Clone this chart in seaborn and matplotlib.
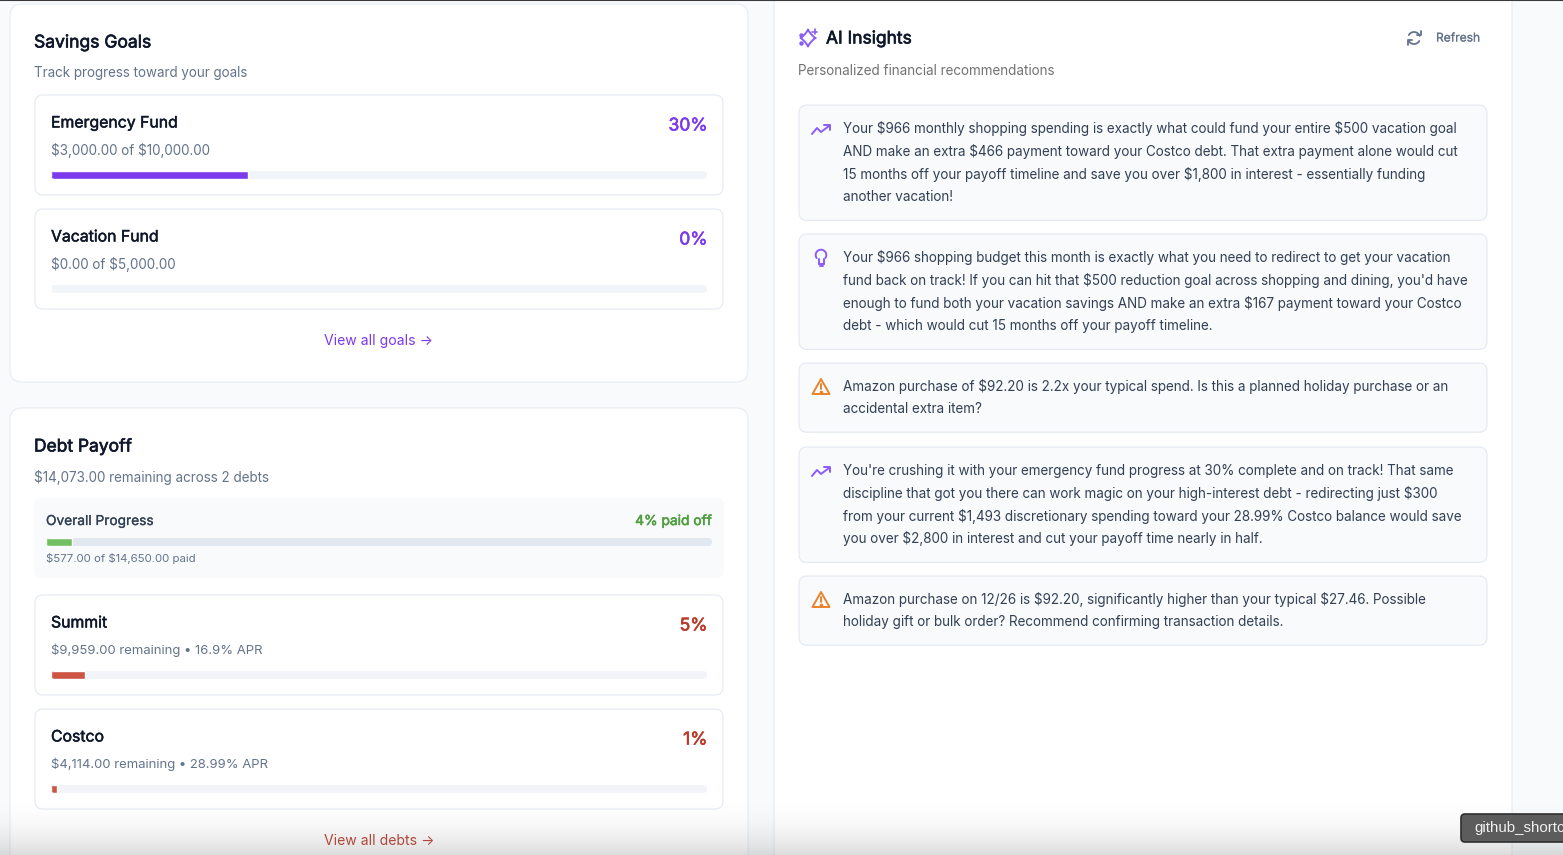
import matplotlib
matplotlib.use('Agg')
import matplotlib.pyplot as plt
import matplotlib.patheffects as pe
import numpy as np
import seaborn as sns
from matplotlib.patches import FancyBboxPatch, Polygon

W, H = 1563, 855

# progress values
goal_names = ['Emergency Fund', 'Vacation Fund']
goal_pct = [30, 0]
goal_labels = ['30%', '0%']
goal_subs = ['$3,000.00 of $10,000.00', '$0.00 of $5,000.00']
debt_names = ['Summit', 'Costco']
debt_pct = [5.2, 0.9]
debt_labels = ['5%', '1%']
debt_subs = ['$9,959.00 remaining • 16.9% APR', '$4,114.00 remaining • 28.99% APR']
overall_pct = [3.94]

insights = [
    ['Your $966 monthly shopping spending is exactly what could fund your entire $500 vacation goal',
     'AND make an extra $466 payment toward your Costco debt. That extra payment alone would cut',
     '15 months off your payoff timeline and save you over $1,800 in interest - essentially funding',
     'another vacation!'],
    ['Your $966 shopping budget this month is exactly what you need to redirect to get your vacation',
     "fund back on track! If you can hit that $500 reduction goal across shopping and dining, you'd have",
     'enough to fund both your vacation savings AND make an extra $167 payment toward your Costco',
     'debt - which would cut 15 months off your payoff timeline.'],
    ['Amazon purchase of $92.20 is 2.2x your typical spend. Is this a planned holiday purchase or an',
     'accidental extra item?'],
    ["You're crushing it with your emergency fund progress at 30% complete and on track! That same",
     'discipline that got you there can work magic on your high-interest debt - redirecting just $300',
     'from your current $1,493 discretionary spending toward your 28.99% Costco balance would save',
     'you over $2,800 in interest and cut your payoff time nearly in half.'],
    ['Amazon purchase on 12/26 is $92.20, significantly higher than your typical $27.46. Possible',
     'holiday gift or bulk order? Recommend confirming transaction details.'],
]
insight_icons = ['trend', 'bulb', 'warn', 'trend', 'warn']

sns.set_theme(style='white')
plt.rcParams['font.family'] = ['Inter', 'DejaVu Sans']

PURPLE = '#7c3aed'
PURPLE_ICON = '#8b5cf6'
BORDER = '#e2e8f0'
DARK = '#0f172a'
SLATE = '#64748b'
BODY = '#334155'
RED_TEXT = '#b83a2b'
RED_BAR = '#cd5343'
GREEN_TEXT = '#4f9e3f'
GREEN_BAR = '#72c061'
TRACK = '#f1f5f9'

fig = plt.figure(figsize=(W / 100, H / 100), dpi=100, facecolor='#f8fafc')
page = fig.add_axes([0, 0, 1, 1])
page.set_xlim(0, W)
page.set_ylim(H, 0)
page.axis('off')


def px(size):
    return size * 0.72


def card(x0, y0, x1, y1, r=8, fc='white', ec=BORDER, lw=0.75, z=1):
    p = FancyBboxPatch((x0 + r, y0 + r), x1 - x0 - 2 * r, y1 - y0 - 2 * r,
                       boxstyle=f'round,pad={r},rounding_size={r}', fc=fc, ec=ec, lw=lw, zorder=z)
    page.add_patch(p)
    return p


def label(x, y, s, size=13.5, color=SLATE, bold=0, ha='left'):
    # the installed Inter only gives one weight here, so heavier text gets a thin stroke
    t = page.text(x, y, s, fontsize=px(size), color=color, ha=ha, va='center', zorder=5, parse_math=False)
    if bold:
        t.set_path_effects([pe.withStroke(linewidth=bold, foreground=color)])


def progress(x0, x1, y0, y1, value, name, color, track=TRACK):
    # track is a rounded patch, the fill is a seaborn bar on a 0-100 scale
    r = (y1 - y0) / 2
    t = FancyBboxPatch((x0 + r, y0 + r), x1 - x0 - 2 * r, 0,
                       boxstyle=f'round,pad={r},rounding_size={r}', fc=track, ec='none', zorder=2)
    page.add_patch(t)
    ax = fig.add_axes([x0 / W, 1 - y1 / H, (x1 - x0) / W, (y1 - y0) / H])
    ax.patch.set_alpha(0)
    sns.barplot(x=[value], y=[name], color=color, width=1, saturation=1, orient='h', ax=ax)
    ax.set_xlim(0, 100)
    ax.set_ylim(0.5, -0.5)
    ax.axis('off')
    for b in ax.patches:
        b.set_clip_path(t)


def icon_trend(cx, cy):
    xs = np.array([-9, -4, 0, 8])
    ys = np.array([5, -1, 3, -3])
    page.plot(cx + xs, cy + ys, color=PURPLE_ICON, lw=1.4, zorder=5)
    page.plot(cx + np.array([3, 9, 9]), cy + np.array([-4, -4, 1]), color=PURPLE_ICON, lw=1.4, zorder=5)


def icon_bulb(cx, cy):
    a = np.linspace(np.radians(-215), np.radians(35), 40)
    page.plot(cx + 5.3 * np.cos(a), cy - 3 + 5.3 * np.sin(a), color=PURPLE_ICON, lw=1.4, zorder=5)
    page.plot([cx - 2.5, cx + 2.5], [cy + 6, cy + 6], color=PURPLE_ICON, lw=1.4, zorder=5)
    page.plot([cx - 1.5, cx + 1.5], [cy + 8.5, cy + 8.5], color=PURPLE_ICON, lw=1.4, zorder=5)
    page.plot([cx - 2.5, cx - 2.5], [cy + 1.5, cy + 6], color=PURPLE_ICON, lw=1.4, zorder=5)
    page.plot([cx + 2.5, cx + 2.5], [cy + 1.5, cy + 6], color=PURPLE_ICON, lw=1.4, zorder=5)


def icon_warn(cx, cy):
    c = '#e8832a'
    page.add_patch(Polygon([[cx, cy - 8], [cx + 8.5, cy + 7], [cx - 8.5, cy + 7]], closed=True, fc='none',
                           ec=c, lw=1.4, joinstyle='round', zorder=5))
    page.plot([cx, cx], [cy - 3, cy + 2], color=c, lw=1.4, zorder=5)
    page.plot([cx], [cy + 4.6], marker='o', ms=1.6, color=c, zorder=5)


def icon_sparkle(cx, cy):
    t = np.linspace(0, 2 * np.pi, 121)
    sx = np.sign(np.cos(t)) * np.abs(np.cos(t)) ** 2.4
    sy = np.sign(np.sin(t)) * np.abs(np.sin(t)) ** 2.4
    page.plot(cx + 7.5 * sx, cy + 8.5 * sy, color=PURPLE_ICON, lw=1.4, zorder=5)
    page.plot([cx + 6.5, cx + 6.5], [cy - 8.5, cy - 4], color=PURPLE_ICON, lw=1.2, zorder=5)
    page.plot([cx + 4.2, cx + 8.8], [cy - 6.2, cy - 6.2], color=PURPLE_ICON, lw=1.2, zorder=5)
    page.plot([cx - 7, cx - 7], [cy - 3, cy + 5], 'o', ms=2.2, color=PURPLE_ICON, zorder=5)


def icon_refresh(cx, cy):
    c = '#64748b'
    a = np.radians(np.linspace(-150, -20, 30))
    page.plot(cx + 6 * np.cos(a), cy + 6 * np.sin(a), color=c, lw=1.3, zorder=5)
    a = np.radians(np.linspace(30, 160, 30))
    page.plot(cx + 6 * np.cos(a), cy + 6 * np.sin(a), color=c, lw=1.3, zorder=5)
    page.plot([cx + 6.5, cx + 6.5, cx + 2.5], [cy - 7, cy - 2.5, cy - 2.5], color=c, lw=1.3, zorder=5)
    page.plot([cx - 6.5, cx - 6.5, cx - 2.5], [cy + 7, cy + 2.5, cy + 2.5], color=c, lw=1.3, zorder=5)


page.plot([0, W], [0.5, 0.5], color='#3a3a3c', lw=1.5, zorder=20)

# left panels
card(10, 4, 748, 382, r=12, ec='#e6eaf1')
label(34, 43, 'Savings Goals', 17.5, DARK, 0.45)
label(34, 73, 'Track progress toward your goals', 13.4, SLATE)

for i, (name, pct, lab, sub) in enumerate(zip(goal_names, goal_pct, goal_labels, goal_subs)):
    top = 95 + i * 114
    card(35, top, 723, top + 100)
    label(51, top + 28, name, 15.8, DARK, 0.35)
    label(707.5, top + 31, lab, 17.5, PURPLE, 0.45, ha='right')
    label(51, top + 55, sub, 13.5, SLATE)
    progress(51, 707, top + 76, top + 84, pct, name, PURPLE)
label(379, 341, 'View all goals →', 14, PURPLE, ha='center')

card(10, 408, 748, 900, r=12, ec='#e6eaf1')
label(34, 447, 'Debt Payoff', 17.4, DARK, 0.45)
label(34, 477, '$14,073.00 remaining across 2 debts', 13.5, SLATE)

card(34, 498, 724, 578, fc='#f8fafc', ec='none')
label(46, 521, 'Overall Progress', 13.7, BODY, 0.2)
label(711.5, 521, '4% paid off', 13.8, GREEN_TEXT, 0.4, ha='right')
progress(46, 712, 538, 546, overall_pct[0], 'Overall', GREEN_BAR, track='#e2e8f0')
label(46, 558, '$577.00 of $14,650.00 paid', 11.4, SLATE)

for i, (name, pct, lab, sub) in enumerate(zip(debt_names, debt_pct, debt_labels, debt_subs)):
    top = 595 + i * 114
    card(35, top, 723, top + 100)
    label(51, top + 28, name, 15.8, DARK, 0.35)
    label(707.5, top + 31, lab, 17.5, RED_TEXT, 0.45, ha='right')
    label(51, top + 55, sub, 13.1, SLATE)
    progress(51, 707, top + 76, top + 84, pct, name, RED_BAR)
label(379, 841, 'View all debts →', 14, RED_TEXT, ha='center')

# right panel
card(774, -10, 1512, 900, r=12, ec='#e6eaf1')
icon_sparkle(808, 38)
label(826, 39, 'AI Insights', 17.4, DARK, 0.45)
label(798, 71, 'Personalized financial recommendations', 13.5, '#737373')
icon_refresh(1414, 38)
label(1436, 38.5, 'Refresh', 12, SLATE, 0.15)

card_tops = [105, 234, 363, 447, 576]
icon_draw = {'trend': icon_trend, 'bulb': icon_bulb, 'warn': icon_warn}
for top, lines, kind in zip(card_tops, insights, insight_icons):
    bottom = top + 24 + 22.6 * len(lines) + (1 if len(lines) == 4 else 0)
    card(799, top, 1487, bottom, fc='#f8fafc')
    icon_draw[kind](821, top + 24)
    for j, line in enumerate(lines):
        label(843, top + 23.6 + j * 22.75, line, 13.5, BODY)

# fade along the bottom edge of the capture
fade = np.zeros((60, 2, 4))
fade[..., :3] = 0.55
fade[..., 3] = (np.linspace(0, 1, 60) ** 2.2 * 0.3)[:, None]
page.imshow(fade, extent=(0, W, 855, 795), aspect='auto', zorder=10, interpolation='bilinear')
page.set_xlim(0, W)
page.set_ylim(H, 0)

# tooltip cut off at the right edge
card(1461, 814, 1600, 842, r=4, fc='#5c5c5c', ec='#2f2f2f', lw=1.2, z=12)
page.text(1474, 828, 'github_shortc', fontsize=px(15), color='#f0f0f0', ha='left', va='center',
          family=['Liberation Sans'], zorder=13, clip_on=True)

fig.savefig('out.png', dpi=100, facecolor=fig.get_facecolor())
